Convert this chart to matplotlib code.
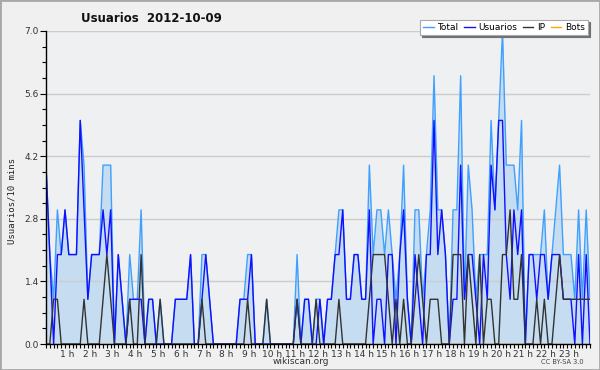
import matplotlib
import matplotlib.pyplot as plt
import numpy as np
from matplotlib.patches import Rectangle
from matplotlib.ticker import FixedLocator, MultipleLocator
from matplotlib.transforms import ScaledTranslation

matplotlib.use("agg")

# one value per 10 minutes, 144 per day
usuarios = [
    4, 2, 0, 2, 2, 3, 2, 2, 2, 5, 3, 1, 2, 2, 2, 3, 2, 3, 0, 2, 1, 0, 1, 1,
    1, 1, 0, 1, 1, 0, 0, 0, 0, 0, 1, 1, 1, 1, 2, 0, 0, 1, 2, 1, 0, 0, 0, 0,
    0, 0, 0, 1, 1, 1, 2, 0, 0, 0, 0, 0, 0, 0, 0, 0, 0, 0, 1, 0, 1, 1, 0, 0,
    1, 0, 1, 1, 2, 2, 3, 1, 1, 2, 2, 1, 1, 3, 0, 1, 1, 0, 2, 2, 0, 2, 3, 1,
    0, 2, 1, 0, 2, 2, 5, 2, 3, 2, 0, 1, 1, 4, 1, 2, 2, 1, 0, 2, 1, 4, 3, 5,
    5, 2, 1, 3, 2, 3, 0, 2, 2, 1, 2, 2, 1, 2, 2, 2, 1, 1, 1, 0, 2, 0, 2, 0,
]
ip = [
    0, 0, 1, 1, 0, 0, 0, 0, 0, 0, 1, 0, 0, 0, 0, 1, 2, 1, 0, 0, 0, 0, 1, 0,
    0, 2, 0, 0, 0, 0, 1, 0, 0, 0, 0, 0, 0, 0, 0, 0, 0, 1, 0, 0, 0, 0, 0, 0,
    0, 0, 0, 0, 0, 1, 0, 0, 0, 0, 1, 0, 0, 0, 0, 0, 0, 0, 1, 0, 0, 0, 0, 1,
    0, 0, 0, 0, 0, 1, 0, 0, 0, 0, 0, 0, 0, 1, 2, 2, 2, 2, 1, 0, 1, 0, 1, 0,
    0, 1, 2, 1, 0, 1, 1, 1, 0, 0, 0, 2, 2, 2, 0, 2, 1, 0, 2, 0, 1, 1, 0, 0,
    2, 2, 3, 1, 1, 2, 0, 0, 0, 1, 0, 1, 0, 0, 1, 2, 1, 1, 1, 1, 1, 1, 1, 1,
]
total = [
    4, 2, 1, 3, 2, 3, 2, 2, 2, 5, 4, 1, 2, 2, 2, 4, 4, 4, 0, 2, 1, 0, 2, 1,
    1, 3, 0, 1, 1, 0, 1, 0, 0, 0, 1, 1, 1, 1, 2, 0, 0, 2, 2, 1, 0, 0, 0, 0,
    0, 0, 0, 1, 1, 2, 2, 0, 0, 0, 1, 0, 0, 0, 0, 0, 0, 0, 2, 0, 1, 1, 0, 1,
    1, 0, 1, 1, 2, 3, 3, 1, 1, 2, 2, 1, 1, 4, 2, 3, 3, 2, 3, 2, 1, 2, 4, 1,
    0, 3, 3, 1, 2, 3, 6, 3, 3, 2, 0, 3, 3, 6, 1, 4, 3, 1, 2, 2, 2, 5, 3, 5,
    7, 4, 4, 4, 3, 5, 0, 2, 2, 2, 2, 3, 1, 2, 3, 4, 2, 2, 2, 1, 3, 1, 3, 1,
]
bots = [0] * 144  # flat at zero all day

hour_labels = [f"{h} h" for h in range(1, 24)]
y_ticks = [0.0, 1.4, 2.8, 4.2, 5.6, 7.0]

t = np.arange(len(total)) / 6.0

fig = plt.figure(figsize=(6.0, 3.7), dpi=100)
fig.patch.set_facecolor("#f0f0f0")
fig.patches.append(Rectangle((0, 0), 1, 1, transform=fig.transFigure,
                             fill=False, edgecolor="#a8a8a8", linewidth=2))

ax = fig.add_axes([46 / 600, 26 / 370, 544 / 600, 313 / 370])
ax.set_facecolor("#eef0f2")

ax.fill_between(t, 0, total, color="#c6dcf0", linewidth=0, zorder=0.5)
ax.plot(t, bots, color="#ffa500", linewidth=1.0, zorder=1.5)
ax.plot(t, total, color="#40a0ff", linewidth=1.0, zorder=3, label="Total")
ax.plot(t, usuarios, color="#1010ff", linewidth=1.0, zorder=4, label="Usuarios")
ax.plot(t, ip, color="#333333", linewidth=1.0, zorder=5, label="IP")
ax.plot([], [], color="#ffa500", linewidth=1.0, label="Bots")

ax.set_xlim(0, t[-1])
ax.set_ylim(0, 7.0)

ax.set_yticks(y_ticks)
ax.set_yticklabels([f"{v:.1f}" for v in y_ticks])
ax.yaxis.set_minor_locator(MultipleLocator(0.35))
ax.xaxis.set_major_locator(FixedLocator(range(1, 24)))
ax.set_xticklabels(hour_labels)
ax.xaxis.set_minor_locator(MultipleLocator(1 / 6))

ax.grid(axis="y", color="#cccccc", linewidth=1.0, zorder=1)
ax.set_axisbelow(False)
for line in ax.get_ygridlines():
    line.set_zorder(1)

for side in ("top", "right"):
    ax.spines[side].set_visible(False)
for side in ("left", "bottom"):
    ax.spines[side].set_color("black")
    ax.spines[side].set_linewidth(1.0)
    ax.spines[side].set_zorder(6)

ax.tick_params(axis="both", which="both", direction="out", color="black",
               width=0.8, labelsize=6.5, labelcolor="#333333")
ax.tick_params(axis="x", which="both", length=3, pad=1)
ax.tick_params(axis="y", which="major", length=4, pad=1)
ax.tick_params(axis="y", which="minor", length=3)

# hour labels sit a little left of their tick
shift = ScaledTranslation(-2 / 100, 0, fig.dpi_scale_trans)
for lbl in ax.get_xticklabels():
    lbl.set_transform(lbl.get_transform() + shift)

fig.text(151 / 600, 1 - 18 / 370, "Usuarios  2012-10-09", ha="center",
         va="center", fontsize=8.5, fontweight="bold", color="#111111")
fig.text(12 / 600, 1 - 201 / 370, "Usuarios/10 mins", rotation=90,
         ha="center", va="center", fontsize=6.5, family="DejaVu Sans Mono",
         color="#222222")
fig.text(301 / 600, 1 - 362 / 370, "wikiscan.org", ha="center", va="center",
         fontsize=6.5, color="#333333")
fig.text(562 / 600, 1 - 362 / 370, "CC BY-SA 3.0", ha="center", va="center",
         fontsize=4.8, color="#444444")

leg = ax.legend(loc="upper right", bbox_to_anchor=(588 / 600, 1 - 20 / 370),
                bbox_transform=fig.transFigure, ncol=4, fontsize=6.5,
                frameon=True, fancybox=False, handlelength=1.2,
                handletextpad=0.4, columnspacing=0.6, borderpad=0.35,
                borderaxespad=0,
                shadow={"ox": 1.5, "oy": -1.5, "facecolor": "#707070",
                        "edgecolor": "#707070", "alpha": 1})
leg.get_frame().set_edgecolor("#aaaaaa")
leg.get_frame().set_linewidth(0.8)
leg.set_zorder(10)

fig.savefig("out.png", dpi=100, facecolor=fig.get_facecolor())
